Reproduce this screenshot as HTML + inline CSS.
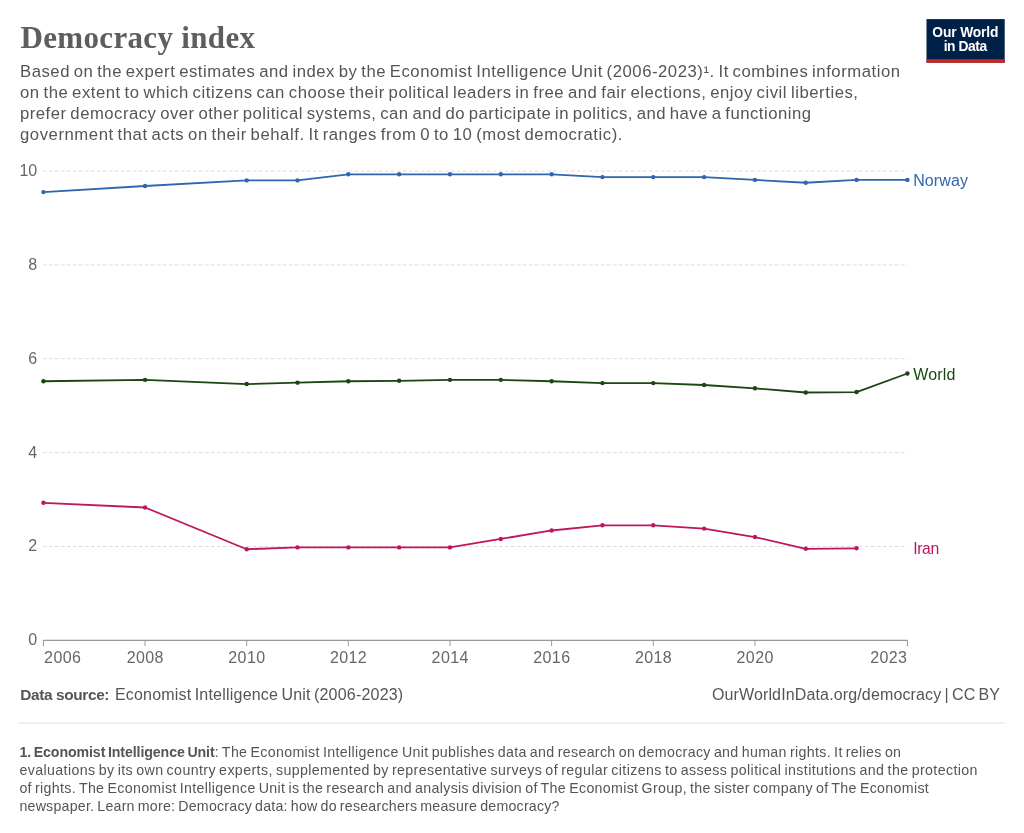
<!DOCTYPE html>
<html lang="en">
<head>
<meta charset="utf-8">
<title>Democracy index</title>
<style>
html,body{margin:0;padding:0;background:#fff;}
body{width:1024px;height:833px;overflow:hidden;font-family:"Liberation Sans",sans-serif;}
svg{display:block;will-change:transform;}
svg text{font-family:"Liberation Sans",sans-serif;}
svg text.serif{font-family:"Liberation Serif",serif;}
</style>
</head>
<body>
<svg width="1024" height="833" viewBox="0 0 1024 833">
<rect x="0" y="0" width="1024" height="833" fill="#ffffff"/>
<text class="serif" x="20.5" y="48" font-size="31" font-weight="bold" fill="#5e5e5e" textLength="234.5" lengthAdjust="spacing">Democracy index</text>
<text x="20" y="76.9" font-size="16.7" word-spacing="-1.4" fill="#555555" textLength="880" lengthAdjust="spacing">Based on the expert estimates and index by the Economist Intelligence Unit (2006-2023)¹. It combines information</text>
<text x="20" y="97.8" font-size="16.7" word-spacing="-1.4" fill="#555555" textLength="838" lengthAdjust="spacing">on the extent to which citizens can choose their political leaders in free and fair elections, enjoy civil liberties,</text>
<text x="20" y="118.7" font-size="16.7" word-spacing="-1.4" fill="#555555" textLength="791" lengthAdjust="spacing">prefer democracy over other political systems, can and do participate in politics, and have a functioning</text>
<text x="20" y="139.6" font-size="16.7" word-spacing="-1.4" fill="#555555" textLength="602.5" lengthAdjust="spacing">government that acts on their behalf. It ranges from 0 to 10 (most democratic).</text>
<g>
<rect x="926.5" y="19.1" width="78.2" height="43.6" fill="#002147"/>
<rect x="926.5" y="59.2" width="78.2" height="3.5" fill="#ce261e"/>
<text x="965.4" y="37" font-size="13.8" font-weight="bold" fill="#ffffff" text-anchor="middle" textLength="66.2" lengthAdjust="spacing">Our World</text>
<text x="965.4" y="51.2" font-size="13.8" font-weight="bold" fill="#ffffff" text-anchor="middle" textLength="43.5" lengthAdjust="spacing">in Data</text>
</g>
<line x1="43" y1="546.44" x2="907.4" y2="546.44" stroke="#dcdcdc" stroke-width="1" stroke-dasharray="3.6,2.4"/>
<line x1="43" y1="452.58" x2="907.4" y2="452.58" stroke="#dcdcdc" stroke-width="1" stroke-dasharray="3.6,2.4"/>
<line x1="43" y1="358.72" x2="907.4" y2="358.72" stroke="#dcdcdc" stroke-width="1" stroke-dasharray="3.6,2.4"/>
<line x1="43" y1="264.86" x2="907.4" y2="264.86" stroke="#dcdcdc" stroke-width="1" stroke-dasharray="3.6,2.4"/>
<line x1="43" y1="171.00" x2="907.4" y2="171.00" stroke="#dcdcdc" stroke-width="1" stroke-dasharray="3.6,2.4"/>
<text x="37.2" y="645.30" font-size="16" fill="#666666" text-anchor="end">0</text>
<text x="37.2" y="551.44" font-size="16" fill="#666666" text-anchor="end">2</text>
<text x="37.2" y="457.58" font-size="16" fill="#666666" text-anchor="end">4</text>
<text x="37.2" y="363.72" font-size="16" fill="#666666" text-anchor="end">6</text>
<text x="37.2" y="269.86" font-size="16" fill="#666666" text-anchor="end">8</text>
<text x="37.2" y="176.00" font-size="16" fill="#666666" text-anchor="end">10</text>
<line x1="43" y1="640.3" x2="907.9" y2="640.3" stroke="#999999" stroke-width="1.2"/>
<line x1="43.40" y1="640.3" x2="43.40" y2="646.0999999999999" stroke="#999999" stroke-width="1"/>
<text x="44.1" y="662.5" font-size="16" fill="#666666" text-anchor="start" textLength="36.8" lengthAdjust="spacing">2006</text>
<line x1="145.05" y1="640.3" x2="145.05" y2="646.0999999999999" stroke="#999999" stroke-width="1"/>
<text x="145.05" y="662.5" font-size="16" fill="#666666" text-anchor="middle" textLength="36.8" lengthAdjust="spacing">2008</text>
<line x1="246.69" y1="640.3" x2="246.69" y2="646.0999999999999" stroke="#999999" stroke-width="1"/>
<text x="246.69" y="662.5" font-size="16" fill="#666666" text-anchor="middle" textLength="36.8" lengthAdjust="spacing">2010</text>
<line x1="348.34" y1="640.3" x2="348.34" y2="646.0999999999999" stroke="#999999" stroke-width="1"/>
<text x="348.34" y="662.5" font-size="16" fill="#666666" text-anchor="middle" textLength="36.8" lengthAdjust="spacing">2012</text>
<line x1="449.99" y1="640.3" x2="449.99" y2="646.0999999999999" stroke="#999999" stroke-width="1"/>
<text x="449.99" y="662.5" font-size="16" fill="#666666" text-anchor="middle" textLength="36.8" lengthAdjust="spacing">2014</text>
<line x1="551.64" y1="640.3" x2="551.64" y2="646.0999999999999" stroke="#999999" stroke-width="1"/>
<text x="551.64" y="662.5" font-size="16" fill="#666666" text-anchor="middle" textLength="36.8" lengthAdjust="spacing">2016</text>
<line x1="653.28" y1="640.3" x2="653.28" y2="646.0999999999999" stroke="#999999" stroke-width="1"/>
<text x="653.28" y="662.5" font-size="16" fill="#666666" text-anchor="middle" textLength="36.8" lengthAdjust="spacing">2018</text>
<line x1="754.93" y1="640.3" x2="754.93" y2="646.0999999999999" stroke="#999999" stroke-width="1"/>
<text x="754.93" y="662.5" font-size="16" fill="#666666" text-anchor="middle" textLength="36.8" lengthAdjust="spacing">2020</text>
<line x1="907.40" y1="640.3" x2="907.40" y2="646.0999999999999" stroke="#999999" stroke-width="1"/>
<text x="907" y="662.5" font-size="16" fill="#666666" text-anchor="end" textLength="36.8" lengthAdjust="spacing">2023</text>
<polyline points="43.40,502.80 145.05,507.49 246.69,549.26 297.52,547.38 348.34,547.38 399.16,547.38 449.99,547.38 500.81,538.93 551.64,530.48 602.46,525.32 653.28,525.32 704.11,528.61 754.93,537.05 805.75,548.79 856.58,548.32" fill="none" stroke="#be165f" stroke-width="1.8" stroke-linejoin="round" stroke-linecap="round"/>
<circle cx="43.40" cy="502.80" r="2.2" fill="#be165f"/>
<circle cx="145.05" cy="507.49" r="2.2" fill="#be165f"/>
<circle cx="246.69" cy="549.26" r="2.2" fill="#be165f"/>
<circle cx="297.52" cy="547.38" r="2.2" fill="#be165f"/>
<circle cx="348.34" cy="547.38" r="2.2" fill="#be165f"/>
<circle cx="399.16" cy="547.38" r="2.2" fill="#be165f"/>
<circle cx="449.99" cy="547.38" r="2.2" fill="#be165f"/>
<circle cx="500.81" cy="538.93" r="2.2" fill="#be165f"/>
<circle cx="551.64" cy="530.48" r="2.2" fill="#be165f"/>
<circle cx="602.46" cy="525.32" r="2.2" fill="#be165f"/>
<circle cx="653.28" cy="525.32" r="2.2" fill="#be165f"/>
<circle cx="704.11" cy="528.61" r="2.2" fill="#be165f"/>
<circle cx="754.93" cy="537.05" r="2.2" fill="#be165f"/>
<circle cx="805.75" cy="548.79" r="2.2" fill="#be165f"/>
<circle cx="856.58" cy="548.32" r="2.2" fill="#be165f"/>
<polyline points="43.40,381.25 145.05,379.84 246.69,384.06 297.52,382.65 348.34,381.25 399.16,380.78 449.99,379.84 500.81,379.84 551.64,381.25 602.46,383.12 653.28,383.12 704.11,385.00 754.93,388.29 805.75,392.51 856.58,392.04 907.40,373.50" fill="none" stroke="#18470f" stroke-width="1.8" stroke-linejoin="round" stroke-linecap="round"/>
<circle cx="43.40" cy="381.25" r="2.2" fill="#18470f"/>
<circle cx="145.05" cy="379.84" r="2.2" fill="#18470f"/>
<circle cx="246.69" cy="384.06" r="2.2" fill="#18470f"/>
<circle cx="297.52" cy="382.65" r="2.2" fill="#18470f"/>
<circle cx="348.34" cy="381.25" r="2.2" fill="#18470f"/>
<circle cx="399.16" cy="380.78" r="2.2" fill="#18470f"/>
<circle cx="449.99" cy="379.84" r="2.2" fill="#18470f"/>
<circle cx="500.81" cy="379.84" r="2.2" fill="#18470f"/>
<circle cx="551.64" cy="381.25" r="2.2" fill="#18470f"/>
<circle cx="602.46" cy="383.12" r="2.2" fill="#18470f"/>
<circle cx="653.28" cy="383.12" r="2.2" fill="#18470f"/>
<circle cx="704.11" cy="385.00" r="2.2" fill="#18470f"/>
<circle cx="754.93" cy="388.29" r="2.2" fill="#18470f"/>
<circle cx="805.75" cy="392.51" r="2.2" fill="#18470f"/>
<circle cx="856.58" cy="392.04" r="2.2" fill="#18470f"/>
<circle cx="907.40" cy="373.50" r="2.2" fill="#18470f"/>
<polyline points="43.40,192.12 145.05,186.02 246.69,180.39 297.52,180.39 348.34,174.29 399.16,174.29 449.99,174.29 500.81,174.29 551.64,174.29 602.46,177.10 653.28,177.10 704.11,177.10 754.93,179.92 805.75,182.73 856.58,179.92 907.40,179.92" fill="none" stroke="#2f66ad" stroke-width="1.8" stroke-linejoin="round" stroke-linecap="round"/>
<circle cx="43.40" cy="192.12" r="2.2" fill="#2f66ad"/>
<circle cx="145.05" cy="186.02" r="2.2" fill="#2f66ad"/>
<circle cx="246.69" cy="180.39" r="2.2" fill="#2f66ad"/>
<circle cx="297.52" cy="180.39" r="2.2" fill="#2f66ad"/>
<circle cx="348.34" cy="174.29" r="2.2" fill="#2f66ad"/>
<circle cx="399.16" cy="174.29" r="2.2" fill="#2f66ad"/>
<circle cx="449.99" cy="174.29" r="2.2" fill="#2f66ad"/>
<circle cx="500.81" cy="174.29" r="2.2" fill="#2f66ad"/>
<circle cx="551.64" cy="174.29" r="2.2" fill="#2f66ad"/>
<circle cx="602.46" cy="177.10" r="2.2" fill="#2f66ad"/>
<circle cx="653.28" cy="177.10" r="2.2" fill="#2f66ad"/>
<circle cx="704.11" cy="177.10" r="2.2" fill="#2f66ad"/>
<circle cx="754.93" cy="179.92" r="2.2" fill="#2f66ad"/>
<circle cx="805.75" cy="182.73" r="2.2" fill="#2f66ad"/>
<circle cx="856.58" cy="179.92" r="2.2" fill="#2f66ad"/>
<circle cx="907.40" cy="179.92" r="2.2" fill="#2f66ad"/>
<text x="913.2" y="185.5" font-size="16" fill="#2f66ad" textLength="54.75" lengthAdjust="spacing">Norway</text>
<text x="913.2" y="379.5" font-size="16" fill="#18470f" textLength="42.25" lengthAdjust="spacing">World</text>
<text x="913.2" y="554" font-size="15.8" fill="#be165f" textLength="26" lengthAdjust="spacing">Iran</text>
<text x="20.2" y="699.8" font-size="15.4" font-weight="bold" fill="#555555" textLength="89.3" lengthAdjust="spacing">Data source:</text>
<text x="114.9" y="699.8" font-size="16" word-spacing="-1.4" fill="#555555" textLength="288.3" lengthAdjust="spacing">Economist Intelligence Unit (2006-2023)</text>
<text x="1000" y="699.8" font-size="16" word-spacing="-1.4" fill="#555555" text-anchor="end" textLength="288.1" lengthAdjust="spacing">OurWorldInData.org/democracy | CC BY</text>
<line x1="19" y1="723.1" x2="1004.7" y2="723.1" stroke="#e7e7e7" stroke-width="1.2"/>
<text x="19.4" y="756.6" font-size="14.2" font-weight="bold" word-spacing="-1.15" fill="#555555" textLength="195.3" lengthAdjust="spacing">1. Economist Intelligence Unit</text>
<text x="214.7" y="756.6" font-size="14.2" word-spacing="-1.15" fill="#555555" textLength="686.3" lengthAdjust="spacing">: The Economist Intelligence Unit publishes data and research on democracy and human rights. It relies on</text>
<text x="19.4" y="774.8" font-size="14.2" word-spacing="-1.15" fill="#555555" textLength="958.1" lengthAdjust="spacing">evaluations by its own country experts, supplemented by representative surveys of regular citizens to assess political institutions and the protection</text>
<text x="19.4" y="792.9" font-size="14.2" word-spacing="-1.15" fill="#555555" textLength="909.4" lengthAdjust="spacing">of rights. The Economist Intelligence Unit is the research and analysis division of The Economist Group, the sister company of The Economist</text>
<text x="19.4" y="811" font-size="14.2" word-spacing="-1.15" fill="#555555" textLength="540.1" lengthAdjust="spacing">newspaper. Learn more: Democracy data: how do researchers measure democracy?</text>
</svg>
</body>
</html>
